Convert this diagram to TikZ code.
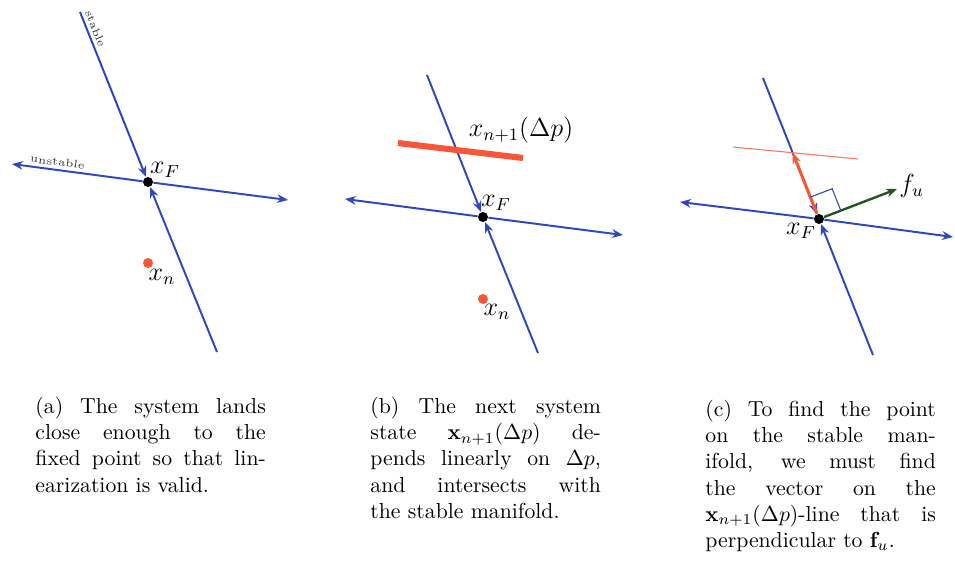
\documentclass[tikz,border=0pt]{standalone}
\usepackage{amsmath}
\usepackage{tikz}
\usetikzlibrary{arrows.meta,calc}

\definecolor{manblue}{RGB}{48,72,190}
\definecolor{ptred}{RGB}{250,85,55}
\definecolor{vecgreen}{RGB}{35,85,35}

\begin{document}
\begin{tikzpicture}[
    x=0.46pt, y=-0.46pt,
    manifold/.style={manblue, line width=0.9pt},
    arr/.style={-{Stealth[length=5pt,width=4pt]}},
    fixpt/.style={circle, fill=black, inner sep=0pt, minimum size=4.6pt},
    iterpt/.style={circle, fill=ptred, inner sep=0pt, minimum size=4.6pt},
    lbl/.style={inner sep=0pt, font=\large},
    tag/.style={inner sep=1.5pt, font=\tiny, text=black!80},
    caption/.style={text width=106pt, align=justify, inner sep=0pt, anchor=north west}
  ]
  \useasboundingbox (0,0) rectangle (955,568);

  % (a) fixed point and manifolds
  \coordinate (sA1) at (80,12);
  \coordinate (sA2) at (217,352);
  \coordinate (uA1) at (12,164);
  \coordinate (uA2) at (288,200);
  \node[fixpt] (FA) at (148,182) {};
  \draw[manifold, arr] (FA) -- node[tag, pos=0.66, above, sloped] {unstable} (uA1);
  \draw[manifold, arr] (FA) -- (uA2);
  \draw[manifold, arr] (sA1) -- node[tag, pos=0.12, above, sloped] {stable} (FA);
  \draw[manifold, arr] (sA2) -- (FA);
  \node[lbl] (xfA) at (165,170) {$x_F$};
  \node[iterpt] (pA) at (148,263) {};
  \node[lbl] (xnA) at (162,277) {$x_n$};

  % (b) next state line
  \coordinate (sB1) at (427,75);
  \coordinate (sB2) at (538,353);
  \coordinate (uB1) at (345,199);
  \coordinate (uB2) at (623,235);
  \node[fixpt] (FB) at (483,217) {};
  \draw[manifold, arr] (FB) -- (uB1);
  \draw[manifold, arr] (FB) -- (uB2);
  \draw[manifold, arr] (sB1) -- (FB);
  \draw[manifold, arr] (sB2) -- (FB);
  \coordinate (lB1) at (398,143);
  \coordinate (lB2) at (523,158);
  \draw[ptred, line width=2.8pt] (lB1) -- (lB2);
  \node[lbl] (xnextB) at (521,130) {$x_{n+1}(\Delta p)$};
  \node[lbl] (xfB) at (496,203) {$x_F$};
  \node[iterpt] (pB) at (483,299) {};
  \node[lbl] (xnB) at (497,312) {$x_n$};

  % (c) perpendicular to f_u
  \coordinate (sC1) at (763,78);
  \coordinate (sC2) at (873,355);
  \coordinate (uC1) at (680,202);
  \coordinate (uC2) at (953,237);
  \node[fixpt] (FC) at (819,219) {};
  \draw[manifold, arr] (FC) -- (uC1);
  \draw[manifold, arr] (FC) -- (uC2);
  \draw[manifold, arr] (sC1) -- (FC);
  \draw[manifold, arr] (sC2) -- (FC);
  \coordinate (lC1) at (733,147);
  \coordinate (lC2) at (858,159);
  \draw[ptred!80, line width=0.5pt] (lC1) -- (lC2);
  \coordinate (rC) at (intersection of lC1--lC2 and sC1--sC2);
  \coordinate (gC) at (897,189);
  \draw[ptred, line width=1.4pt, arr] (FC) -- (rC);
  \draw[vecgreen, line width=1.1pt, arr] (FC) -- (gC);
  \coordinate (mC1) at ($(FC)!0.33!(rC)$);
  \coordinate (mC2) at ($(FC)!0.28!(gC)$);
  \draw[manblue, line width=0.5pt] (mC1) -- ($(mC1)+(mC2)-(FC)$) -- (mC2);
  \node[lbl, anchor=west] (fuC) at (899,186) {$f_u$};
  \node[lbl] (xfC) at (801,231) {$x_F$};

  % captions
  \node[caption] (capA) at (35,397) {(a) The system lands\linebreak close enough to the\linebreak fixed point so that lin-\linebreak earization is valid.};
  \node[caption] (capB) at (370,397) {(b) The next system\linebreak state $\mathbf{x}_{n+1}(\Delta p)$ de-\linebreak pends linearly on $\Delta p$,\linebreak and intersects with\linebreak the stable manifold.};
  \node[caption] (capC) at (705,400) {(c) To find the point\linebreak on the stable man-\linebreak ifold, we must find\linebreak the vector on the\linebreak $\mathbf{x}_{n+1}(\Delta p)$-line that is\linebreak perpendicular to $\mathbf{f}_u$.};
\end{tikzpicture}
\end{document}
